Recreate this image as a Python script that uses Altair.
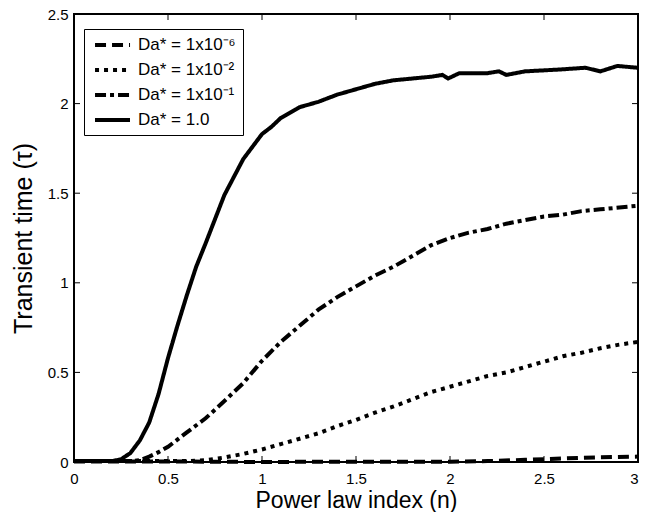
import altair as alt
import pandas as pd

# ---- data ----
labels = ["Da* = 1x10\u207b\u2076", "Da* = 1x10\u207b\u00b2", "Da* = 1x10\u207b\u00b9", "Da* = 1.0"]

n_e6 = [0, 0.5, 1.0, 1.5, 2.0, 2.2, 2.4, 2.6, 2.8, 3.0]
t_e6 = [0.003, 0.003, 0.0, 0.002, 0.002, 0.005, 0.012, 0.02, 0.026, 0.03]

n_e2 = [0, 0.6, 0.7, 0.8, 0.9, 1.0, 1.1, 1.2, 1.3, 1.4, 1.5, 1.6, 1.7, 1.8, 1.9, 2.0,
        2.1, 2.2, 2.3, 2.4, 2.5, 2.6, 2.7, 2.8, 2.9, 3.0]
t_e2 = [0.005, 0.005, 0.01, 0.025, 0.045, 0.07, 0.10, 0.13, 0.16, 0.20, 0.235, 0.275,
        0.31, 0.35, 0.39, 0.42, 0.45, 0.48, 0.50, 0.53, 0.56, 0.59, 0.61, 0.635, 0.655, 0.67]

n_e1 = [0, 0.3, 0.35, 0.4, 0.45, 0.5, 0.55, 0.6, 0.7, 0.8, 0.9, 1.0, 1.1, 1.2, 1.3, 1.4,
        1.5, 1.6, 1.7, 1.8, 1.9, 2.0, 2.1, 2.2, 2.3, 2.4, 2.5, 2.6, 2.7, 2.8, 2.9, 3.0]
t_e1 = [0.005, 0.005, 0.01, 0.03, 0.055, 0.085, 0.125, 0.165, 0.244, 0.34, 0.44, 0.565,
        0.67, 0.76, 0.85, 0.92, 0.98, 1.04, 1.09, 1.15, 1.21, 1.25, 1.28, 1.30, 1.33, 1.35,
        1.37, 1.38, 1.40, 1.41, 1.42, 1.43]

n_1 = [0, 0.1, 0.2, 0.25, 0.3, 0.35, 0.4, 0.45, 0.5, 0.55, 0.6, 0.65, 0.7, 0.8, 0.9, 1.0,
       1.05, 1.1, 1.2, 1.3, 1.35, 1.4, 1.5, 1.6, 1.7, 1.8, 1.9, 1.96, 1.99, 2.05, 2.2, 2.26,
       2.30, 2.40, 2.58, 2.72, 2.80, 2.89, 3.0]
t_1 = [0.005, 0.005, 0.005, 0.015, 0.05, 0.12, 0.22, 0.38, 0.58, 0.76, 0.93, 1.09, 1.22,
       1.49, 1.69, 1.83, 1.87, 1.92, 1.98, 2.01, 2.03, 2.05, 2.08, 2.11, 2.13, 2.14, 2.15,
       2.16, 2.14, 2.17, 2.17, 2.18, 2.16, 2.18, 2.19, 2.20, 2.18, 2.21, 2.20]

x_ticks = [0, 0.5, 1, 1.5, 2, 2.5, 3]
y_ticks = [0, 0.5, 1, 1.5, 2, 2.5]

rows = []
for lab, ns, ts in zip(labels, [n_e6, n_e2, n_e1, n_1], [t_e6, t_e2, t_e1, t_1]):
    for a, b in zip(ns, ts):
        rows.append({"n": a, "tau": b, "series": lab})
df = pd.DataFrame(rows)

W, H = 564, 448
FONT = "Liberation Sans"

xscale = alt.Scale(domain=[0, 3], nice=False, zero=False)
yscale = alt.Scale(domain=[0, 2.5], nice=False, zero=False)

lines = alt.Chart(df).mark_line(color="black", strokeWidth=4, clip=False).encode(
    x=alt.X("n:Q", scale=xscale,
            axis=alt.Axis(title="Power law index (n)", values=x_ticks, format="~g",
                          ticks=False, domain=False, grid=False, labelPadding=9,
                          labelFlush=False,
                          labelAlign=alt.condition("datum.value == 3", alt.value("right"),
                                                   alt.value("center")),
                          labelFontSize=15, titleFontSize=23, titlePadding=3,
                          titleFontWeight="normal", labelColor="black", titleColor="black")),
    y=alt.Y("tau:Q", scale=yscale,
            axis=alt.Axis(title="Transient time (\u03c4)", values=y_ticks, format="~g",
                          ticks=False, domain=False, grid=False, labelPadding=6,
                          labelFlush=False,
                          labelFontSize=15, titleFontSize=25, titlePadding=11,
                          titleFontWeight="normal", labelColor="black", titleColor="black")),
    strokeDash=alt.StrokeDash(
        "series:N",
        scale=alt.Scale(domain=labels,
                        range=[[11, 6], [4, 5], [11, 4, 4, 4], [1, 0]]),
        sort=labels,
        legend=alt.Legend(title=None, orient="none", legendX=10, legendY=15,
                          symbolType="M-0.71,0H4.29", symbolStrokeWidth=4, symbolSize=196,
                          symbolStrokeColor="black", labelFontSize=17, labelFont=FONT,
                          labelColor="black", rowPadding=8, padding=7,
                          strokeColor="black", fillColor="white", labelOffset=29),
    ),
    detail="series:N",
)

xt = pd.DataFrame({"v": x_ticks})
yt = pd.DataFrame({"v": y_ticks})
tick_len = 6
bottom = alt.Chart(xt).mark_rule(color="black", strokeWidth=1).encode(
    x=alt.X("v:Q", scale=xscale), y=alt.value(H), y2=alt.value(H - tick_len))
top = alt.Chart(xt).mark_rule(color="black", strokeWidth=1).encode(
    x=alt.X("v:Q", scale=xscale), y=alt.value(0), y2=alt.value(tick_len))
left = alt.Chart(yt).mark_rule(color="black", strokeWidth=1).encode(
    y=alt.Y("v:Q", scale=yscale), x=alt.value(0), x2=alt.value(tick_len))
right = alt.Chart(yt).mark_rule(color="black", strokeWidth=1).encode(
    y=alt.Y("v:Q", scale=yscale), x=alt.value(W), x2=alt.value(W - tick_len))

chart = alt.layer(bottom, top, left, right, lines).properties(
    width=W, height=H,
    autosize=alt.AutoSizeParams(type="none"),
    padding={"left": 66, "top": 6, "right": 1, "bottom": 50},
).configure(font=FONT).configure_view(stroke="black", strokeWidth=2).configure_axis(
    labelFont=FONT, titleFont=FONT)

chart.save("out.html", embed_options={"renderer": "svg", "actions": False})
